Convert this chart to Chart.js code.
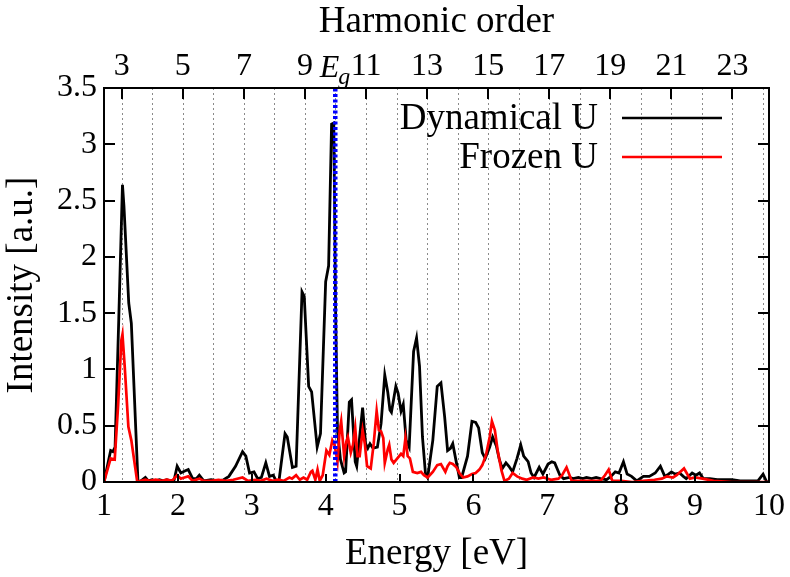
<!DOCTYPE html>
<html>
<head>
<meta charset="utf-8">
<script src="https://cdn.jsdelivr.net/npm/chart.js@4.4.1/dist/chart.umd.min.js"></script>
<style>
  html, body { margin: 0; padding: 0; background: #fff; }
  #wrap { width: 790px; height: 577px; }
</style>
</head>
<body>
<div id="wrap"><canvas id="hhg" width="790" height="577"></canvas></div>
<script>
// ---- data ----
var dynE = [1.00, 1.09, 1.12, 1.15, 1.20, 1.25, 1.27, 1.335, 1.37, 1.46, 1.50, 1.56, 1.60, 1.65, 1.70, 1.75, 1.80, 1.85, 1.90, 1.95,
  1.99, 2.04, 2.10, 2.14, 2.20, 2.25, 2.29, 2.35, 2.45, 2.55, 2.62, 2.69, 2.78, 2.875, 2.92, 2.97, 3.03, 3.08, 3.13, 3.19,
  3.24, 3.29, 3.33, 3.37, 3.45, 3.48, 3.55, 3.60, 3.68, 3.71, 3.77, 3.81, 3.885, 3.93, 4.00, 4.04, 4.08, 4.11, 4.135, 4.16,
  4.20, 4.25, 4.27, 4.32, 4.35, 4.40, 4.42, 4.50, 4.54, 4.57, 4.60, 4.64, 4.70, 4.75, 4.80, 4.84, 4.87, 4.89, 4.95, 4.98,
  5.02, 5.05, 5.09, 5.13, 5.19, 5.23, 5.27, 5.31, 5.35, 5.38, 5.45, 5.51, 5.56, 5.61, 5.65, 5.69, 5.72, 5.77, 5.81, 5.84,
  5.92, 5.98, 6.03, 6.07, 6.12, 6.16, 6.22, 6.26, 6.31, 6.35, 6.39, 6.44, 6.48, 6.53, 6.59, 6.64, 6.68, 6.74, 6.78, 6.82,
  6.89, 6.94, 7.01, 7.06, 7.10, 7.17, 7.22, 7.30, 7.35, 7.42, 7.48, 7.53, 7.60, 7.66, 7.72, 7.80, 7.86, 7.92, 7.97, 8.03,
  8.08, 8.14, 8.21, 8.30, 8.38, 8.46, 8.53, 8.59, 8.64, 8.68, 8.73, 8.79, 8.84, 8.88, 8.96, 9.01, 9.06, 9.11, 9.20, 9.30,
  9.40, 9.50, 9.61, 9.75, 9.85, 9.92, 9.97, 10.0];
var dynI = [0.00, 0.28, 0.27, 0.31, 1.45, 2.64, 2.45, 1.59, 1.41, 0.00, 0.01, 0.04, 0.01, 0.02, 0.01, 0.02, 0.01, 0.02, 0.01, 0.02,
  0.14, 0.08, 0.10, 0.11, 0.03, 0.03, 0.06, 0.01, 0.02, 0.01, 0.02, 0.05, 0.14, 0.27, 0.23, 0.08, 0.09, 0.03, 0.04, 0.17,
  0.05, 0.06, 0.01, 0.02, 0.43, 0.40, 0.13, 0.14, 1.69, 1.65, 0.85, 0.80, 0.31, 0.43, 1.78, 1.92, 3.18, 3.19, 1.50, 0.46,
  0.20, 0.08, 0.09, 0.71, 0.73, 0.18, 0.14, 0.66, 0.34, 0.30, 0.34, 0.30, 0.31, 0.52, 0.95, 0.80, 0.64, 0.62, 0.85, 0.79,
  0.63, 0.69, 0.37, 0.31, 1.16, 1.28, 1.03, 0.40, 0.08, 0.04, 0.37, 0.85, 0.88, 0.58, 0.28, 0.30, 0.34, 0.17, 0.04, 0.04,
  0.23, 0.54, 0.53, 0.48, 0.26, 0.21, 0.31, 0.40, 0.32, 0.20, 0.12, 0.17, 0.14, 0.09, 0.21, 0.33, 0.23, 0.18, 0.08, 0.04,
  0.13, 0.07, 0.16, 0.18, 0.17, 0.06, 0.03, 0.04, 0.03, 0.04, 0.03, 0.04, 0.03, 0.04, 0.03, 0.02, 0.05, 0.09, 0.08, 0.18,
  0.07, 0.05, 0.01, 0.05, 0.05, 0.08, 0.14, 0.05, 0.07, 0.09, 0.07, 0.08, 0.05, 0.03, 0.08, 0.06, 0.08, 0.03, 0.03, 0.02,
  0.02, 0.02, 0.01, 0.01, 0.01, 0.07, 0.00, 0.00];

var frzE = [1.00, 1.09, 1.145, 1.19, 1.235, 1.25, 1.28, 1.33, 1.37, 1.42, 1.45, 1.50, 1.56, 1.62, 1.70, 1.78, 1.85, 1.92, 1.99, 2.04,
  2.09, 2.14, 2.20, 2.29, 2.35, 2.45, 2.55, 2.65, 2.75, 2.875, 2.95, 3.05, 3.12, 3.20, 3.28, 3.36, 3.43, 3.51, 3.545, 3.60,
  3.65, 3.70, 3.75, 3.80, 3.82, 3.86, 3.89, 3.92, 3.96, 4.01, 4.05, 4.09, 4.12, 4.16, 4.19, 4.21, 4.25, 4.28, 4.30, 4.34,
  4.37, 4.40, 4.43, 4.46, 4.50, 4.53, 4.56, 4.61, 4.65, 4.69, 4.72, 4.75, 4.78, 4.80, 4.84, 4.86, 4.89, 4.92, 4.97, 5.02,
  5.05, 5.08, 5.11, 5.14, 5.18, 5.24, 5.29, 5.33, 5.38, 5.45, 5.51, 5.56, 5.62, 5.65, 5.68, 5.72, 5.77, 5.81, 5.86, 5.92,
  5.98, 6.03, 6.08, 6.12, 6.17, 6.22, 6.25, 6.29, 6.33, 6.38, 6.42, 6.48, 6.53, 6.59, 6.66, 6.72, 6.81, 6.88, 6.95, 7.05,
  7.15, 7.20, 7.26, 7.33, 7.45, 7.60, 7.72, 7.78, 7.83, 7.88, 8.00, 8.15, 8.30, 8.45, 8.55, 8.62, 8.70, 8.75, 8.85, 8.93,
  9.00, 9.10, 9.25, 9.50, 10.0];
var frzI = [0.00, 0.21, 0.20, 0.67, 1.26, 1.31, 1.03, 0.49, 0.37, 0.14, 0.00, 0.01, 0.02, 0.01, 0.02, 0.01, 0.02, 0.01, 0.06, 0.03,
  0.04, 0.05, 0.01, 0.03, 0.01, 0.01, 0.02, 0.01, 0.02, 0.04, 0.01, 0.02, 0.01, 0.03, 0.01, 0.02, 0.01, 0.04, 0.03, 0.06,
  0.02, 0.04, 0.02, 0.09, 0.10, 0.02, 0.11, 0.01, 0.06, 0.28, 0.24, 0.37, 0.33, 0.18, 0.46, 0.54, 0.23, 0.36, 0.40, 0.26,
  0.33, 0.48, 0.23, 0.23, 0.46, 0.34, 0.14, 0.12, 0.34, 0.63, 0.46, 0.45, 0.39, 0.17, 0.29, 0.33, 0.20, 0.17, 0.21, 0.25,
  0.23, 0.39, 0.23, 0.21, 0.09, 0.08, 0.09, 0.06, 0.04, 0.09, 0.15, 0.16, 0.09, 0.14, 0.17, 0.16, 0.13, 0.08, 0.04, 0.05,
  0.07, 0.08, 0.11, 0.15, 0.24, 0.40, 0.54, 0.46, 0.27, 0.10, 0.01, 0.03, 0.08, 0.05, 0.03, 0.02, 0.04, 0.03, 0.04, 0.02,
  0.03, 0.06, 0.13, 0.01, 0.01, 0.01, 0.01, 0.06, 0.11, 0.01, 0.01, 0.00, 0.01, 0.02, 0.03, 0.05, 0.04, 0.06, 0.12, 0.03,
  0.04, 0.03, 0.01, 0.00, 0.00];

var seriesNames = ['Dynamical U', 'Frozen U'];
var xTicks = [1, 2, 3, 4, 5, 6, 7, 8, 9, 10];
var yTicks = [0, 0.5, 1, 1.5, 2, 2.5, 3, 3.5];
var harmonicOrders = [3, 4, 5, 6, 7, 8, 9, 10, 11, 12, 13, 14, 15, 16, 17, 18, 19, 20, 21, 22, 23, 24];
var harmonicLabelled = [3, 5, 7, 9, 11, 13, 15, 17, 19, 21, 23];
var photonEnergy = 0.4133;   // eV, fundamental (3 um)
var gapEnergy = 4.13;        // eV

var SERIF = '"Liberation Serif"';

function pairs(xs, ys) {
    return xs.map(function (x, i) { return { x: x, y: ys[i] }; });
}

// dotted harmonic grid, frame, inward ticks, E_g label and legend
var framePlugin = {
    id: 'frame',
    beforeDatasetsDraw: function (chart) {
        var ctx = chart.ctx, a = chart.chartArea, x2 = chart.scales.x2;
        ctx.save();
        ctx.strokeStyle = '#8a8a8a';
        ctx.lineWidth = 1;
        ctx.setLineDash([2, 3]);
        harmonicOrders.forEach(function (n) {
            var px = Math.round(x2.getPixelForValue(n * photonEnergy)) + 0.5;
            ctx.beginPath(); ctx.moveTo(px, a.top); ctx.lineTo(px, a.bottom); ctx.stroke();
        });
        ctx.restore();
    },
    afterDatasetsDraw: function (chart) {
        var ctx = chart.ctx, a = chart.chartArea, s = chart.scales;
        ctx.save();
        ctx.strokeStyle = '#000';
        ctx.lineWidth = 2;
        ctx.setLineDash([]);
        ctx.strokeRect(a.left, a.top, a.right - a.left, a.bottom - a.top);

        ctx.beginPath();
        yTicks.forEach(function (v) {
            var py = Math.round(s.y.getPixelForValue(v));
            ctx.moveTo(a.left, py); ctx.lineTo(a.left + 11, py);
            ctx.moveTo(a.right, py); ctx.lineTo(a.right - 11, py);
        });
        xTicks.forEach(function (v) {
            var px = Math.round(s.x.getPixelForValue(v));
            ctx.moveTo(px, a.bottom); ctx.lineTo(px, a.bottom - 8);
        });
        harmonicLabelled.forEach(function (n) {
            var px = Math.round(s.x2.getPixelForValue(n * photonEnergy));
            ctx.moveTo(px, a.top); ctx.lineTo(px, a.top + 11);
        });
        ctx.stroke();

        // E_g label above the gap line
        var gx = s.x2.getPixelForValue(gapEnergy);
        ctx.fillStyle = '#000';
        ctx.textBaseline = 'alphabetic';
        ctx.font = 'italic 32px ' + SERIF;
        ctx.textAlign = 'right';
        ctx.fillText('E', gx + 4, 77);
        ctx.font = 'italic 24px ' + SERIF;
        ctx.textAlign = 'left';
        ctx.fillText('g', gx + 3, 84);

        // legend: text then line sample
        var rows = [{ y: 118, ds: chart.data.datasets[1] }, { y: 157, ds: chart.data.datasets[0] }];
        ctx.font = '37px ' + SERIF;
        ctx.textAlign = 'right';
        ctx.textBaseline = 'middle';
        rows.forEach(function (r) {
            ctx.fillStyle = '#000';
            ctx.fillText(r.ds.label, 598, r.y + 1);
            ctx.strokeStyle = r.ds.borderColor;
            ctx.lineWidth = 2.7;
            ctx.beginPath(); ctx.moveTo(622, r.y); ctx.lineTo(722, r.y); ctx.stroke();
        });
        ctx.restore();
    }
};

new Chart(document.getElementById('hhg'), {
    type: 'line',
    data: {
        datasets: [
            {
                label: seriesNames[1],
                data: pairs(frzE, frzI),
                borderColor: '#ff0000',
                borderWidth: 2.7,
                pointRadius: 0,
                tension: 0,
                order: 1
            },
            {
                label: seriesNames[0],
                data: pairs(dynE, dynI),
                borderColor: '#000000',
                borderWidth: 2.8,
                pointRadius: 0,
                tension: 0,
                order: 2
            },
            {
                label: 'Eg',
                data: [{ x: gapEnergy, y: yTicks[0] }, { x: gapEnergy, y: yTicks[yTicks.length - 1] }],
                borderColor: '#0000ff',
                borderWidth: 4.5,
                borderDash: [3, 2.5],
                pointRadius: 0,
                order: 0
            }
        ]
    },
    options: {
        responsive: false,
        animation: false,
        events: [],
        layout: { padding: { left: 0, right: 21, top: 0, bottom: 0 } },
        plugins: { legend: { display: false }, tooltip: { enabled: false } },
        scales: {
            x: {
                type: 'linear', position: 'bottom', min: 1, max: 10,
                afterBuildTicks: function (sc) { sc.ticks = xTicks.map(function (v) { return { value: v }; }); },
                afterFit: function (sc) { sc.height = 95; },
                grid: { display: false, drawTicks: false },
                border: { display: false },
                ticks: { color: '#000', font: { family: SERIF, size: 32 }, padding: 5, maxRotation: 0, autoSkip: false,
                    callback: function (v) { return String(v); } },
                title: { display: true, text: 'Energy [eV]', color: '#000', font: { family: SERIF, size: 37 }, padding: { top: 0, bottom: 1 } }
            },
            x2: {
                type: 'linear', position: 'top', min: 1, max: 10,
                afterBuildTicks: function (sc) { sc.ticks = harmonicLabelled.map(function (n) { return { value: n * photonEnergy }; }); },
                afterFit: function (sc) { sc.height = 88; },
                grid: { display: false, drawTicks: false },
                border: { display: false },
                ticks: { color: '#000', font: { family: SERIF, size: 32 }, padding: 2, maxRotation: 0, autoSkip: false,
                    callback: function (v, i) { return String(harmonicLabelled[i]); } },
                title: { display: true, text: 'Harmonic order', color: '#000', font: { family: SERIF, size: 37 }, padding: { top: 0, bottom: 0 } }
            },
            y: {
                type: 'linear', min: 0, max: 3.5,
                afterBuildTicks: function (sc) { sc.ticks = yTicks.map(function (v) { return { value: v }; }); },
                afterFit: function (sc) { sc.width = 104; },
                grid: { display: false, drawTicks: false },
                border: { display: false },
                ticks: { color: '#000', font: { family: SERIF, size: 32 }, padding: 7,
                    callback: function (v) { return String(v); } },
                title: { display: true, text: 'Intensity [a.u.]', color: '#000', font: { family: SERIF, size: 37 }, padding: { top: 0, bottom: 0 } }
            }
        }
    },
    plugins: [framePlugin]
});
</script>
</body>
</html>
